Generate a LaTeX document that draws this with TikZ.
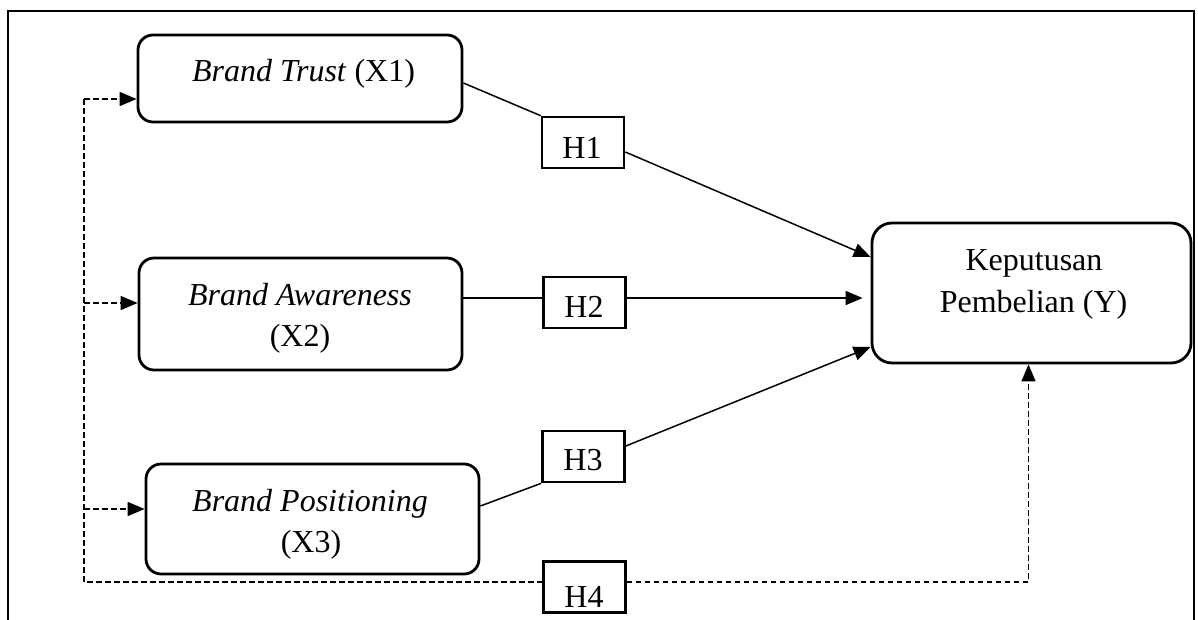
\documentclass[tikz,border=0pt]{standalone}
\usepackage{fontspec}
\setmainfont{Liberation Serif}
\usetikzlibrary{arrows.meta}
\begin{document}
\begin{tikzpicture}[x=1pt,y=-1pt,
  vbox/.style={draw, line width=2.8pt, rounded corners=15pt, inner sep=0pt},
  hbox/.style={draw, line width=2.6pt, fill=white, minimum width=82pt, minimum height=51pt, inner sep=0pt},
  txt/.style={inner sep=0pt, anchor=base, font=\fontsize{32}{40}\selectfont},
  conn/.style={line width=1.5pt},
  arr/.style={-{Triangle[length=17pt,width=14pt]}},
  dsh/.style={line width=1.5pt, dash pattern=on 5.5pt off 3.5pt}
]
\useasboundingbox (0,0) rectangle (1198,619);
% frame
\draw[line width=2.8pt] (8,630) -- (8,11) -- (1194,11) -- (1194,630);
% boxes
\node[vbox, minimum width=324pt, minimum height=87pt] (x1) at (300,78.5) {};
\node[vbox, minimum width=323pt, minimum height=112pt] (x2) at (300.5,314) {};
\node[vbox, minimum width=333pt, minimum height=110pt] (x3) at (312.5,519) {};
\node[vbox, rounded corners=20pt, minimum width=319pt, minimum height=140pt] (y) at (1031.5,293) {};
% texts
\node[txt] (x1t) at (303.5,81) {\textit{Brand Trust} (X1)};
\node[txt] (x2ta) at (300,305) {\textit{Brand Awareness}};
\node[txt] (x2tb) at (300,346) {(X2)};
\node[txt] (x3ta) at (310,511) {\textit{Brand Positioning}};
\node[txt] (x3tb) at (311,552) {(X3)};
\node[txt] (yta) at (1034,270) {Keputusan};
\node[txt] (ytb) at (1033.5,312) {Pembelian (Y)};
% hypothesis boxes
\node[hbox] (h1) at (583,142.5) {};
\node[hbox] (h2) at (584.5,302.5) {};
\node[hbox] (h3) at (583.5,456.5) {};
% connectors
\draw[conn] ([yshift=-4.5pt]x1.east) -- (h1.north west);
\draw[conn, arr] ([yshift=-9.5pt]h1.east) -- ([yshift=36pt]y.west);
\draw[conn] ([yshift=16pt]x2.east) -- ([yshift=4.5pt]h2.west);
\draw[conn, arr] ([yshift=4.5pt]h2.east) -- ([xshift=-8pt,yshift=-5pt]y.west);
\draw[conn] ([yshift=13pt]x3.east) -- (h3.south west);
\draw[conn, arr] ([yshift=10.5pt]h3.east) -- ([yshift=-54pt]y.west);
% dashed
\coordinate (dt) at (84,99);
\coordinate (d2) at (84,303);
\coordinate (d3) at (84,509);
\coordinate (db) at (84,582);
\node[hbox] (h4) at (584.5,587) {};
\draw[dsh] (dt) -- (db) -- ([yshift=5pt]h4.west);
\draw[dsh, arr] ([yshift=5pt]h4.east) -| ([xshift=-3pt]y.south);
\draw[dsh, arr] (dt) -- (x1.west |- dt);
\draw[dsh, arr] (d2) -- (x2.west |- d2);
\draw[dsh, arr] (d3) -- (x3.west |- d3);
% labels
\node[txt] (h1t) at (582,158) {H1};
\node[txt] (h2t) at (584,317) {H2};
\node[txt] (h3t) at (583,470) {H3};
\node[txt] (h4t) at (584,607) {H4};
\end{tikzpicture}
\end{document}
